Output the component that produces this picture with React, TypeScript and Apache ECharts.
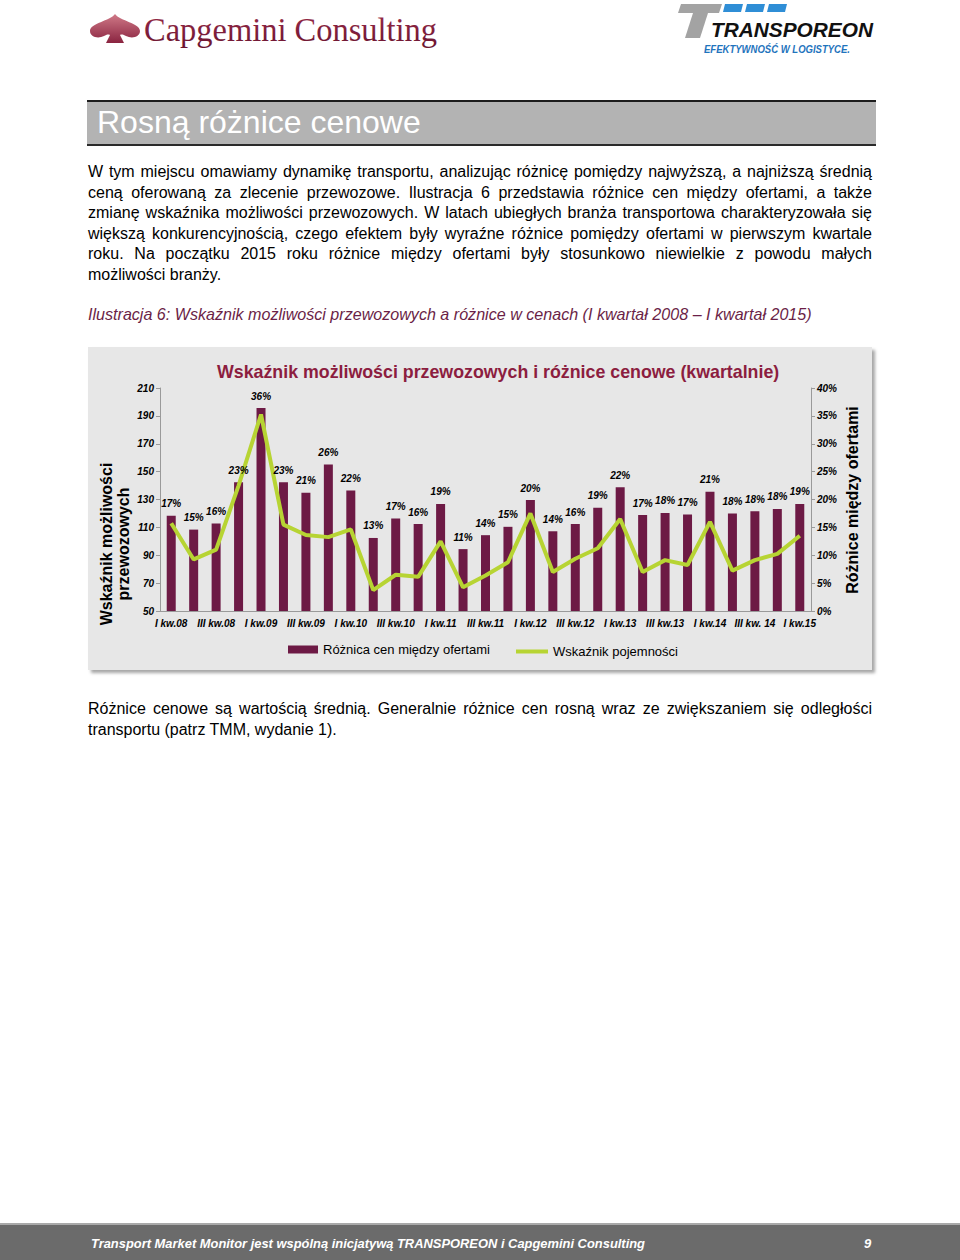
import React, { useEffect, useRef } from "react";
import * as echarts from "echarts";

const categories = [
  "I kw.08", "II kw.08", "III kw.08", "IV kw.08",
  "I kw.09", "II kw.09", "III kw.09", "IV kw.09",
  "I kw.10", "II kw.10", "III kw.10", "IV kw.10",
  "I kw.11", "II kw.11", "III kw.11", "IV kw.11",
  "I kw.12", "II kw.12", "III kw.12", "IV kw.12",
  "I kw.13", "II kw.13", "III kw.13", "IV kw.13",
  "I kw.14", "II kw.14", "III kw. 14", "IV kw.14",
  "I kw.15",
];

// Różnica cen między ofertami (%), right axis
const priceDiff = [
  17.1, 14.6, 15.7, 23.1, 36.4, 23.1, 21.2, 26.3, 21.6, 13.1,
  16.6, 15.6, 19.2, 11.1, 13.6, 15.1, 19.9, 14.3, 15.6, 18.5,
  22.2, 17.2, 17.6, 17.3, 21.4, 17.5, 17.9, 18.3, 19.2,
];

// Wskaźnik pojemności (left axis)
const capacityIndex = [
  113, 87, 94, 140, 191, 112, 104.5, 103, 108.5, 65,
  76, 74.5, 100, 67, 75.5, 85, 120, 78, 87.5, 95,
  116, 78, 86.5, 83, 114, 79, 86.5, 91, 104,
];

const leftTicks = { min: 50, max: 210, interval: 20 };
const rightTicks = { min: 0, max: 40, interval: 5 };

const chartTitle = "Wskaźnik możliwości przewozowych i różnice cenowe (kwartalnie)";
const barName = "Różnica cen między ofertami";
const lineName = "Wskaźnik pojemności";
const leftAxisName = "Wskaźnik możliwości\nprzewozowych";
const rightAxisName = "Różnice między ofertami";

const bodyLines = [
  "W tym miejscu omawiamy dynamikę transportu, analizując różnicę pomiędzy najwyższą, a najniższą średnią",
  "ceną oferowaną za zlecenie przewozowe. Ilustracja 6 przedstawia różnice cen między ofertami, a także",
  "zmianę wskaźnika możliwości przewozowych. W latach ubiegłych branża transportowa charakteryzowała się",
  "większą konkurencyjnością, czego efektem były wyraźne różnice pomiędzy ofertami w pierwszym kwartale",
  "roku. Na początku 2015 roku różnice między ofertami były stosunkowo niewielkie z powodu małych",
  "możliwości branży.",
];
const afterLines = [
  "Różnice cenowe są wartością średnią. Generalnie różnice cen rosną wraz ze zwiększaniem się odległości",
  "transportu (patrz TMM, wydanie 1).",
];
const captionText =
  "Ilustracja 6: Wskaźnik możliwości przewozowych a różnice w cenach (I kwartał 2008 – I kwartał 2015)";

const FONT = "Arial, 'Liberation Sans', sans-serif";
const tickFont = {
  fontSize: 10,
  fontWeight: "bold" as const,
  fontStyle: "italic" as const,
  color: "#000",
  fontFamily: FONT,
};

function Chart() {
  const ref = useRef<HTMLDivElement>(null);
  useEffect(() => {
    if (!ref.current) return;
    const chart = echarts.init(ref.current, null, { renderer: "svg" });
    chart.setOption({
      animation: false,
      backgroundColor: "transparent",
      title: {
        text: chartTitle,
        left: 124,
        top: 11,
        textStyle: { fontSize: 17.8, fontWeight: "bold", color: "#8c1d40", fontFamily: FONT },
      },
      grid: { left: 72, right: 61, top: 41, bottom: 59 },
      legend: [
        {
          data: [{ name: barName, icon: "rect" }],
          left: 195,
          top: 291,
          itemWidth: 30,
          itemHeight: 8,
          itemGap: 4,
          textStyle: { fontSize: 13, color: "#000", fontFamily: FONT },
        },
        {
          data: [{ name: lineName, icon: "rect" }],
          left: 423,
          top: 293,
          itemWidth: 32,
          itemHeight: 4,
          textStyle: { fontSize: 13, color: "#000", fontFamily: FONT },
        },
      ],
      xAxis: {
        type: "category",
        data: categories,
        axisLine: { lineStyle: { color: "#9a9a9a" } },
        axisTick: { show: false },
        axisLabel: { ...tickFont, interval: 1, margin: 7 },
      },
      yAxis: [
        {
          type: "value",
          ...leftTicks,
          axisLine: { show: true, lineStyle: { color: "#9a9a9a" } },
          axisTick: { show: true, length: 4, lineStyle: { color: "#9a9a9a" } },
          splitLine: { show: false },
          axisLabel: { ...tickFont, margin: 6 },
        },
        {
          type: "value",
          position: "right",
          ...rightTicks,
          axisLine: { show: true, lineStyle: { color: "#9a9a9a" } },
          axisTick: { show: true, length: 4, lineStyle: { color: "#9a9a9a" } },
          splitLine: { show: false },
          axisLabel: { ...tickFont, margin: 6, formatter: "{value}%" },
        },
      ],
      series: [
        {
          name: barName,
          type: "bar",
          yAxisIndex: 1,
          data: priceDiff,
          barWidth: 9,
          itemStyle: { color: "#6d1a45" },
          z: 2,
        },
        {
          name: lineName,
          type: "line",
          yAxisIndex: 0,
          data: capacityIndex,
          showSymbol: false,
          symbol: "none",
          lineStyle: { width: 4, color: "#b7d433" },
          itemStyle: { color: "#b7d433" },
          z: 3,
        },
        {
          name: "labels",
          type: "bar",
          yAxisIndex: 1,
          data: priceDiff,
          barWidth: 9,
          barGap: "-100%",
          itemStyle: { color: "rgba(0,0,0,0)" },
          silent: true,
          z: 4,
          label: {
            show: true,
            position: "top",
            distance: 7,
            ...tickFont,
            formatter: (p: any) => Math.round(p.value) + "%",
          },
        },
      ],
      graphic: [
        {
          type: "text",
          x: 27,
          y: 197,
          rotation: Math.PI / 2,
          style: {
            text: leftAxisName,
            font: `bold 16px ${FONT}`,
            fill: "#000",
            align: "center",
            verticalAlign: "middle",
            lineHeight: 17,
          },
        },
        {
          type: "text",
          x: 764,
          y: 153,
          rotation: Math.PI / 2,
          style: {
            text: rightAxisName,
            font: `bold 16px ${FONT}`,
            fill: "#000",
            align: "center",
            verticalAlign: "middle",
          },
        },
      ],
    });
    return () => chart.dispose();
  }, []);
  return (
    <div
      ref={ref}
      style={{
        position: "absolute",
        left: 88,
        top: 347,
        width: 784,
        height: 323,
        background: "#e7e7e7",
        boxShadow: "3px 3px 3px rgba(0,0,0,0.35)",
      }}
    />
  );
}

function Logos() {
  return (
    <svg
      width={960}
      height={60}
      style={{ position: "absolute", left: 0, top: 0 }}
    >
      <defs>
        <linearGradient id="spadeG" x1="0" y1="0" x2="0" y2="1">
          <stop offset="0" stopColor="#d07a88" />
          <stop offset="1" stopColor="#8a2440" />
        </linearGradient>
        <linearGradient id="capG" x1="0" y1="0" x2="0" y2="1">
          <stop offset="0" stopColor="#9a2a4a" />
          <stop offset="1" stopColor="#6a1430" />
        </linearGradient>
      </defs>
      <path
        transform="translate(90,14)"
        d="M25,0 C20,7 0,9 0,17 C0,23 8,25 14,22 C16,21 18,20 20,21 L16,29 L34,29 L30,21 C32,20 34,21 36,22 C42,25 50,23 50,17 C50,9 30,7 25,0 Z"
        fill="url(#spadeG)"
      />
      <text
        x={144}
        y={41}
        fontFamily="'Liberation Serif', 'DejaVu Serif', serif"
        fontSize={33}
        fill="url(#capG)"
        textLength={293}
        lengthAdjust="spacingAndGlyphs"
      >
        Capgemini Consulting
      </text>
      <polygon points="681,4 722,4 719,13 678,13" fill="#a3a3a3" />
      <polygon points="693,13 708,13 700,38 685,38" fill="#a3a3a3" />
      <polygon points="725,4 743,4 741,12 723,12" fill="#2f8ed6" />
      <polygon points="747,4 765,4 763,12 745,12" fill="#2f8ed6" />
      <polygon points="769,4 787,4 785,12 767,12" fill="#2f8ed6" />
      <text
        x={711}
        y={37}
        fontFamily={FONT}
        fontWeight="bold"
        fontStyle="italic"
        fontSize={21}
        fill="#111"
        textLength={162}
        lengthAdjust="spacingAndGlyphs"
      >
        TRANSPOREON
      </text>
      <text
        x={704}
        y={53}
        fontFamily={FONT}
        fontWeight="bold"
        fontStyle="italic"
        fontSize={10.5}
        fill="#1f74bd"
        textLength={146}
        lengthAdjust="spacingAndGlyphs"
      >
        EFEKTYWNOŚĆ  W LOGISTYCE.
      </text>
    </svg>
  );
}

function JustifiedLines({ lines, top, size }: { lines: string[]; top: number; size: number }) {
  return (
    <div
      style={{
        position: "absolute",
        left: 88,
        top,
        width: 784,
        fontFamily: FONT,
        fontSize: size,
        lineHeight: "20.6px",
        color: "#000",
      }}
    >
      {lines.map((l, i) => (
        <div
          key={i}
          style={{
            textAlign: "justify",
            textAlignLast: i === lines.length - 1 ? "left" : "justify",
            whiteSpace: "nowrap",
          }}
        >
          {i === lines.length - 1 ? (
            l
          ) : (
            <span style={{ display: "block", whiteSpace: "normal" }}>{l}</span>
          )}
        </div>
      ))}
    </div>
  );
}

export default function App() {
  return (
    <div
      style={{
        position: "absolute",
        left: 0,
        top: 0,
        width: 960,
        height: 1260,
        background: "#fff",
        overflow: "hidden",
        fontFamily: FONT,
      }}
    >
      <Logos />
      <div
        style={{
          position: "absolute",
          left: 87,
          top: 100,
          width: 789,
          height: 42,
          background: "#b3b3b3",
          borderTop: "2px solid #1c1c1c",
          borderBottom: "2px solid #2a2a2a",
        }}
      >
        <div
          style={{
            position: "absolute",
            left: 10,
            top: 2,
            fontSize: 32,
            lineHeight: "37px",
            color: "#fff",
            fontFamily: FONT,
            whiteSpace: "nowrap",
          }}
        >
          Rosną różnice cenowe
        </div>
      </div>
      <JustifiedLines lines={bodyLines} top={162} size={16} />
      <div
        style={{
          position: "absolute",
          left: 88,
          top: 304,
          fontSize: 16.1,
          lineHeight: "20.6px",
          fontStyle: "italic",
          color: "#6b1f47",
          whiteSpace: "nowrap",
        }}
      >
        {captionText}
      </div>
      <Chart />
      <JustifiedLines lines={afterLines} top={699} size={16} />
      <div
        style={{
          position: "absolute",
          left: 0,
          top: 1223,
          width: 960,
          height: 35,
          background: "#6b6b6b",
          borderTop: "2px solid #a9a9a9",
        }}
      >
        <svg width={960} height={35} style={{ position: "absolute", left: 0, top: 0 }}>
          <text
            x={91}
            y={23}
            fontFamily={FONT}
            fontWeight="bold"
            fontStyle="italic"
            fontSize={13}
            fill="#fff"
            textLength={554}
            lengthAdjust="spacingAndGlyphs"
          >
            Transport Market Monitor jest wspólną inicjatywą TRANSPOREON i Capgemini Consulting
          </text>
          <text
            x={864}
            y={23}
            fontFamily={FONT}
            fontWeight="bold"
            fontStyle="italic"
            fontSize={13}
            fill="#fff"
          >
            9
          </text>
        </svg>
      </div>
    </div>
  );
}
